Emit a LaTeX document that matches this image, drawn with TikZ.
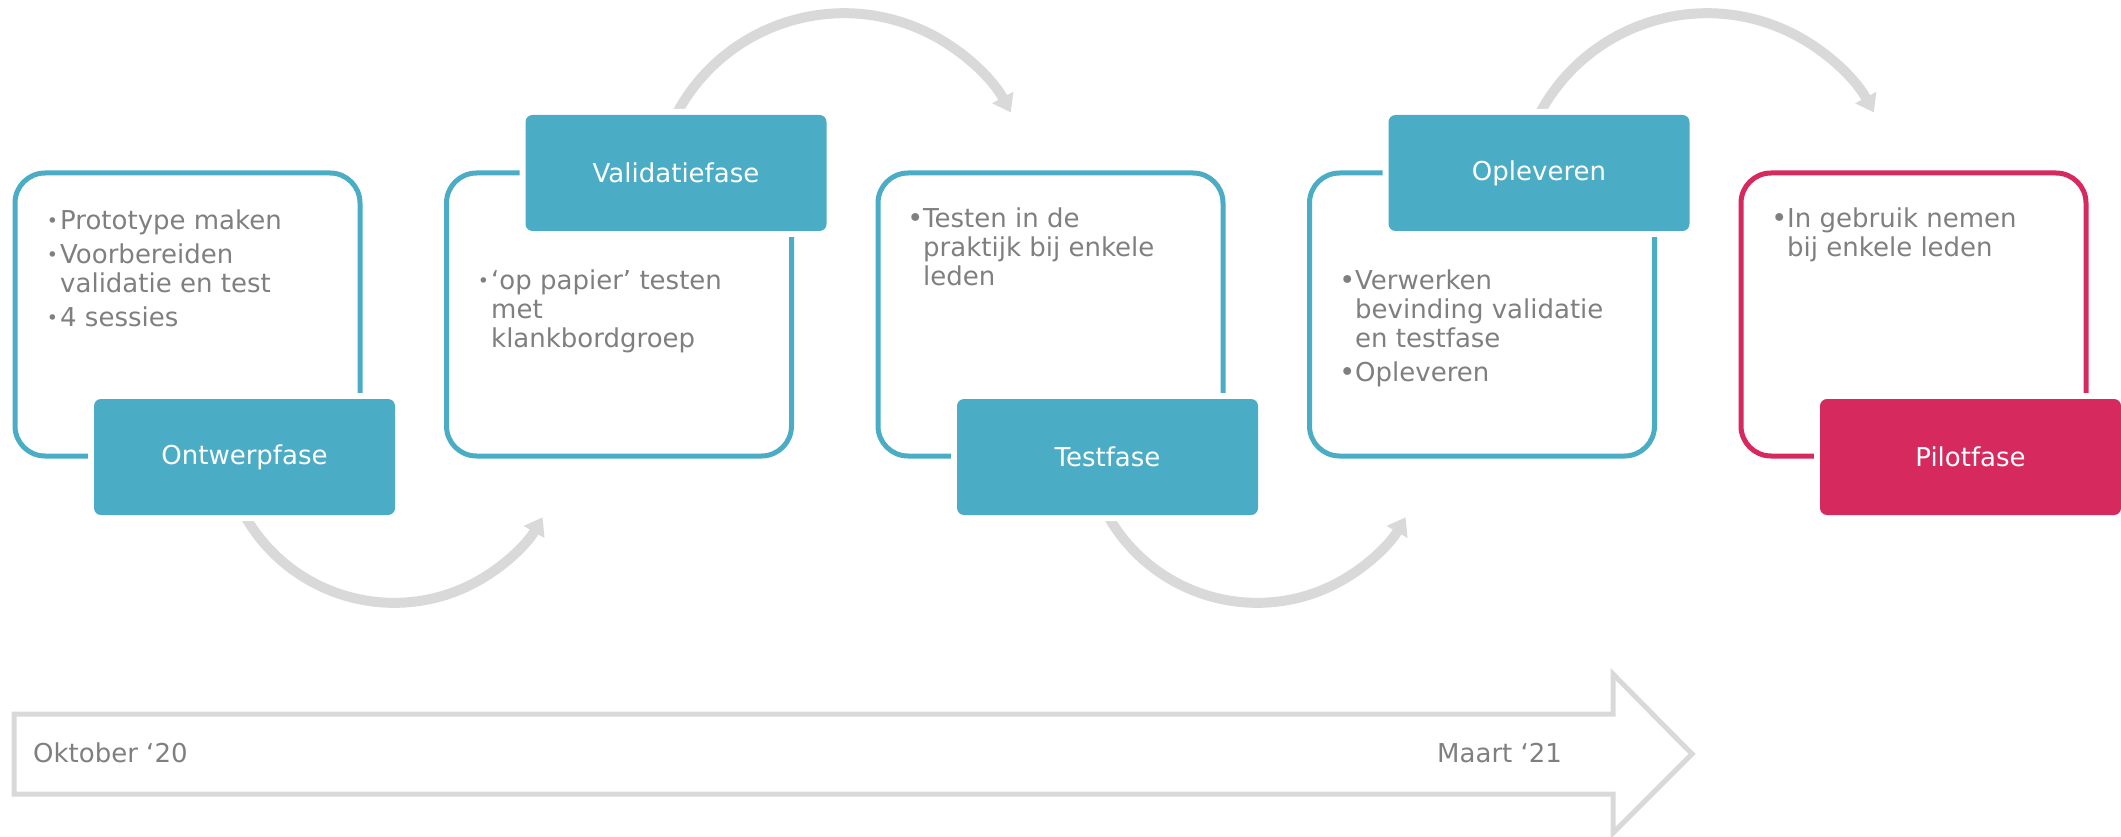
\documentclass[tikz,border=0pt]{standalone}
\usepackage{fontspec}
\setmainfont{DejaVu Sans}
\usepackage{xcolor}
\usetikzlibrary{arrows.meta,backgrounds}

\definecolor{faseblauw}{HTML}{4BACC6}
\definecolor{faseroze}{HTML}{D6295E}
\definecolor{tekstgrijs}{HTML}{7F7F7F}
\definecolor{pijlgrijs}{HTML}{D9D9D9}

\newcommand{\kleinbol}{\llap{\raisebox{2.5pt}{\fontsize{19}{19}\selectfont •}\hspace{2pt}}}
\newcommand{\grootbol}{\llap{{\fontsize{27}{27}\selectfont •}\hspace{0pt}}}

\tikzset{
  kader/.style={draw=faseblauw, line width=5pt, rounded corners=30pt, minimum width=345pt, minimum height=283pt},
  fase/.style={fill=faseblauw, text=white, rounded corners=7pt, minimum width=301pt, minimum height=116pt, preaction={draw=white, line width=12pt}},
  lijst/.style={text=tekstgrijs, align=left, anchor=north west, inner sep=0pt},
  boog/.style={draw=pijlgrijs, line width=10pt, -{Triangle[width=23pt,length=17pt]}},
}

\begin{document}
\begin{tikzpicture}[x=1pt, y=-1pt, font=\fontsize{26}{29}\selectfont]
		\useasboundingbox (0,0) rectangle (2121,837);
		% kaders
		\node[kader] (k1) at (187.5,314.5) {};
		\node[kader] (k2) at (619,314.5) {};
		\node[kader] (k3) at (1050.5,314.5) {};
		\node[kader] (k4) at (1482,314.5) {};
		\node[kader, draw=faseroze] (k5) at (1913.5,314.5) {};
		% fasen
		\node[fase] (f1) at (244.5,457) {Ontwerpfase};
		\node[fase] (f2) at (676,173) {Validatiefase};
		\node[fase] (f3) at (1107.5,457) {Testfase};
		\node[fase] (f4) at (1539,173) {Opleveren};
		\node[fase, fill=faseroze] (f5) at (1970.5,457) {Pilotfase};
		% lijsten
		\node[lijst] (l1) at (60,210) {\kleinbol Prototype maken\\[5pt]\kleinbol Voorbereiden\\validatie en test\\[5pt]\kleinbol 4 sessies};
		\node[lijst] (l2) at (491,270) {\kleinbol ‘op papier’ testen\\met\\klankbordgroep};
		\node[lijst] (l3) at (923,208) {\grootbol Testen in de\\praktijk bij enkele\\leden};
		\node[lijst] (l4) at (1355,270) {\grootbol Verwerken\\bevinding validatie\\en testfase\\[5pt]\grootbol Opleveren};
		\node[lijst] (l5) at (1787,208) {\grootbol In gebruik nemen\\bij enkele leden};
		% bogen
		\begin{pgfonlayer}{background}
		\draw[boog] (f1.south) arc[start angle=150.7, end angle=30.1, radius=171.6];
		\draw[boog] (f3.south) arc[start angle=150.7, end angle=30.1, radius=171.6];
		\draw[boog] (f2.north) arc[start angle=-152.3, end angle=-28.5, radius=189.8];
		\draw[boog] (f4.north) arc[start angle=-152.3, end angle=-28.5, radius=189.8];
		\end{pgfonlayer}
		% tijdlijn
		\draw[pijlgrijs, line width=5pt] (14,714)--(1613,714)--(1613,674)--(1692,754)--(1613,833)--(1613,794)--(14,794)--cycle;
		\node[text=tekstgrijs, anchor=base west, inner sep=0pt] (begin) at (33,762) {Oktober ‘20};
		\node[text=tekstgrijs, anchor=base west, inner sep=0pt] (eind) at (1437,762) {Maart ‘21};
	\end{tikzpicture}
\end{document}
